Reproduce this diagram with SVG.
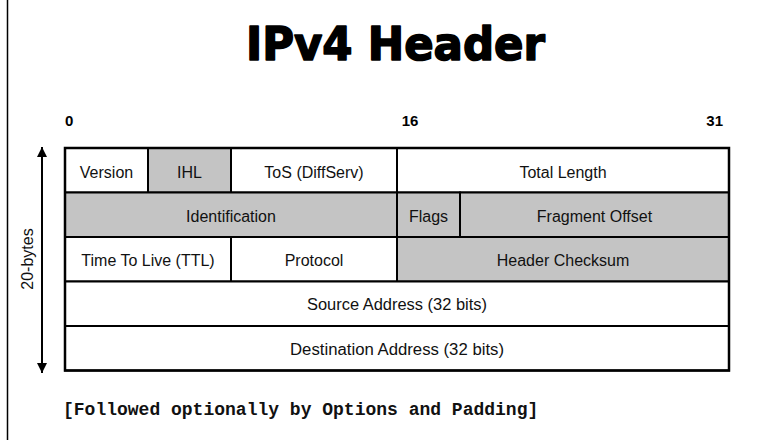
<svg xmlns="http://www.w3.org/2000/svg" width="762" height="440" viewBox="0 0 762 440">
<style>
.cell{stroke:#000;stroke-width:2}
.w{fill:#fff}
.g{fill:#c4c4c4}
.t{font-family:"Liberation Sans",Arial,sans-serif;font-size:16px;fill:#111;text-anchor:middle}
.bit{font-family:"Liberation Sans",Arial,sans-serif;font-size:15px;font-weight:bold;fill:#000}
</style>
<defs>
<marker id="ah" viewBox="0 0 10 10" refX="10" refY="5" markerWidth="5" markerHeight="5" orient="auto-start-reverse" markerUnits="strokeWidth">
<path d="M0,0 L10,5 L0,10 z" fill="#000"/>
</marker>
</defs>
<rect x="0" y="0" width="762" height="440" fill="#fff"/>
<line x1="7.5" y1="0" x2="7.5" y2="440" stroke="#000" stroke-width="1.5"/>
<text x="395.5" y="60" font-family="'DejaVu Sans',sans-serif" font-weight="bold" font-size="46" text-anchor="middle" textLength="299" lengthAdjust="spacingAndGlyphs" fill="#000" stroke="#000" stroke-width="1.6" stroke-linejoin="round">IPv4 Header</text>
<g id="bits">
<text class="bit" x="65" y="126">0</text>
<text class="bit" x="410" y="126" text-anchor="middle">16</text>
<text class="bit" x="723" y="126" text-anchor="end">31</text>
</g>
<g id="connectors">
<line x1="42" y1="147" x2="42" y2="373" stroke="#000" stroke-width="2" marker-start="url(#ah)" marker-end="url(#ah)"/>
</g>
<text transform="translate(33,259) rotate(-90)" class="t" style="font-size:16px">20-bytes</text>
<g id="version"><rect class="cell w" x="65" y="148" width="83" height="44.5"/><text class="t" x="106.5" y="178">Version</text></g>
<g id="ihl"><rect class="cell g" x="148" y="148" width="83" height="44.5"/><text class="t" x="189.5" y="178">IHL</text></g>
<g id="tos"><rect class="cell w" x="231" y="148" width="166" height="44.5"/><text class="t" x="314" y="178">ToS (DiffServ)</text></g>
<g id="total-length"><rect class="cell w" x="397" y="148" width="332" height="44.5"/><text class="t" x="563" y="178">Total Length</text></g>
<g id="identification"><rect class="cell g" x="65" y="192.5" width="332" height="44.5"/><text class="t" x="231" y="222">Identification</text></g>
<g id="flags"><rect class="cell g" x="397" y="192.5" width="63" height="44.5"/><text class="t" x="428.5" y="222">Flags</text></g>
<g id="fragment-offset"><rect class="cell g" x="460" y="192.5" width="269" height="44.5"/><text class="t" x="594.5" y="222">Fragment Offset</text></g>
<g id="ttl"><rect class="cell w" x="65" y="237" width="166" height="44.5"/><text class="t" x="148" y="266">Time To Live (TTL)</text></g>
<g id="protocol"><rect class="cell w" x="231" y="237" width="166" height="44.5"/><text class="t" x="314" y="266">Protocol</text></g>
<g id="header-checksum"><rect class="cell g" x="397" y="237" width="332" height="44.5"/><text class="t" x="563" y="266">Header Checksum</text></g>
<g id="source"><rect class="cell w" x="65" y="281.5" width="664" height="44.5"/><text class="t" x="397" y="310" textLength="180" lengthAdjust="spacingAndGlyphs">Source Address (32 bits)</text></g>
<g id="destination"><rect class="cell w" x="65" y="326" width="664" height="44.5"/><text class="t" x="397" y="355" textLength="214" lengthAdjust="spacingAndGlyphs">Destination Address (32 bits)</text></g>
<rect x="65" y="148" width="664" height="222.5" fill="none" stroke="#000" stroke-width="2.5"/>
<text x="63" y="415" font-family="'Liberation Mono','Courier New',monospace" font-weight="bold" font-size="18" fill="#111">[Followed optionally by Options and Padding]</text>
</svg>
